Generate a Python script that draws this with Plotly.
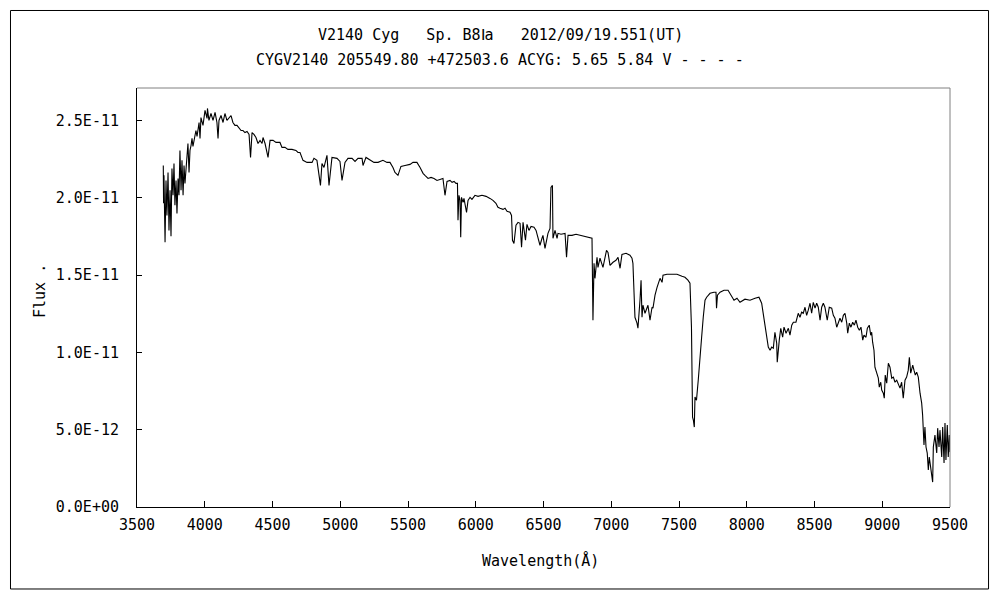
import numpy as np
import plotly.graph_objects as go

# ---------------------------------------------------------------
# Spectrum of V2140 Cyg.
# Flux values are in units of 1e-11 (erg/s/cm2/A), split by region.
# ---------------------------------------------------------------
wl_3700 = [3694, 3696, 3699, 3707, 3714, 3721, 3729, 3736, 3744, 3751,
           3758, 3766, 3773, 3780, 3788, 3795, 3803, 3810, 3817, 3825,
           3832, 3840, 3847, 3854, 3862, 3869, 3876, 3884, 3891, 3899,
           3906, 3913, 3921, 3928, 3935, 3943, 3958, 3965, 3972, 3987]
fx_3700 = [2.209, 1.964, 2.145, 1.712, 2.112, 1.886, 2.164, 1.789, 2.048, 1.751,
           2.190, 2.016, 2.222, 1.951, 2.112, 1.899, 2.125, 2.016, 2.306, 2.048,
           2.242, 2.016, 2.209, 2.093, 2.177, 2.242, 2.351, 2.164, 2.306, 2.339,
           2.384, 2.332, 2.371, 2.390, 2.435, 2.397, 2.487, 2.384, 2.519, 2.468]

wl_4000 = [4002, 4017, 4020, 4031, 4046, 4061, 4076, 4090, 4098, 4105,
           4120, 4135, 4149, 4164, 4179, 4194, 4208, 4223, 4238, 4253,
           4268, 4282, 4297, 4312, 4327, 4338, 4349, 4363, 4378, 4393,
           4408, 4423, 4430, 4445, 4467, 4482, 4504, 4526, 4555, 4570,
           4592, 4614, 4644, 4673, 4688, 4703, 4714, 4725, 4755, 4792,
           4806, 4828, 4854, 4865, 4880, 4902, 4917, 4939, 4976, 4998]
fx_4000 = [2.565, 2.513, 2.578, 2.500, 2.545, 2.500, 2.552, 2.487, 2.384, 2.500,
           2.532, 2.487, 2.545, 2.500, 2.519, 2.532, 2.487, 2.468, 2.468, 2.448,
           2.435, 2.435, 2.422, 2.429, 2.410, 2.261, 2.422, 2.410, 2.390, 2.351,
           2.371, 2.351, 2.390, 2.351, 2.261, 2.371, 2.371, 2.358, 2.358, 2.326,
           2.326, 2.313, 2.313, 2.306, 2.293, 2.293, 2.261, 2.242, 2.229, 2.229,
           2.255, 2.242, 2.080, 2.222, 2.196, 2.274, 2.080, 2.261, 2.255, 2.235]

wl_5000 = [5013, 5028, 5035, 5057, 5087, 5109, 5131, 5161, 5168, 5190,
           5220, 5249, 5279, 5315, 5345, 5367, 5389, 5404, 5426, 5448,
           5478, 5515, 5537, 5566, 5589, 5611, 5625, 5648, 5670, 5692,
           5714, 5736, 5758, 5773, 5788, 5810, 5825, 5840, 5854, 5865,
           5869, 5876, 5884, 5889, 5895, 5906, 5913, 5932, 5943, 5958,
           5972, 5994]
fx_5000 = [2.112, 2.196, 2.229, 2.255, 2.255, 2.235, 2.255, 2.255, 2.209, 2.261,
           2.242, 2.229, 2.229, 2.242, 2.229, 2.229, 2.196, 2.164, 2.145, 2.203,
           2.209, 2.216, 2.229, 2.229, 2.196, 2.158, 2.145, 2.125, 2.132, 2.125,
           2.112, 2.119, 2.125, 2.016, 2.106, 2.112, 2.100, 2.106, 2.093, 2.093,
           1.854, 2.016, 1.983, 1.744, 2.003, 1.970, 1.996, 1.906, 1.983, 2.003,
           1.990, 2.016]

wl_6000 = [6017, 6046, 6076, 6105, 6127, 6149, 6164, 6179, 6201, 6216,
           6231, 6253, 6264, 6271, 6282, 6297, 6312, 6327, 6338, 6349,
           6367, 6378, 6393, 6408, 6430, 6445, 6459, 6474, 6489, 6496,
           6511, 6526, 6533, 6548, 6555, 6566, 6570, 6585, 6600, 6607,
           6629, 6659, 6670, 6681, 6710, 6740, 6769, 6806, 6843, 6858,
           6865, 6873, 6880, 6895, 6902, 6917, 6939, 6965, 6976, 6991]
fx_6000 = [2.009, 2.016, 2.009, 1.996, 1.983, 1.964, 1.938, 1.932, 1.925, 1.932,
           1.912, 1.906, 1.886, 1.725, 1.705, 1.822, 1.841, 1.835, 1.680, 1.841,
           1.725, 1.828, 1.789, 1.815, 1.809, 1.789, 1.744, 1.693, 1.738, 1.757,
           1.673, 1.757, 1.770, 1.802, 2.067, 2.080, 1.738, 1.789, 1.738, 1.770,
           1.764, 1.770, 1.615, 1.757, 1.757, 1.764, 1.757, 1.751, 1.744, 1.738,
           1.208, 1.576, 1.479, 1.615, 1.550, 1.609, 1.550, 1.660, 1.647, 1.563]

wl_7000 = [7013, 7035, 7050, 7065, 7079, 7109, 7138, 7153, 7160, 7168,
           7175, 7190, 7197, 7212, 7220, 7227, 7234, 7249, 7264, 7271,
           7286, 7301, 7308, 7323, 7338, 7360, 7375, 7382, 7411, 7448,
           7485, 7522, 7544, 7566, 7581, 7592, 7600, 7606, 7613, 7618,
           7629, 7642, 7655, 7667, 7679, 7692, 7704, 7729, 7758, 7773,
           7777, 7784, 7803, 7832, 7862, 7876, 7891, 7906, 7928, 7950,
           7987]
fx_7000 = [1.583, 1.596, 1.615, 1.544, 1.634, 1.641, 1.628, 1.609, 1.576, 1.421,
           1.227, 1.189, 1.156, 1.337, 1.467, 1.227, 1.305, 1.253, 1.292, 1.305,
           1.208, 1.292, 1.286, 1.370, 1.421, 1.479, 1.453, 1.499, 1.505, 1.505,
           1.505, 1.492, 1.486, 1.467, 1.447, 1.163, 0.581, 0.562, 0.517, 0.711,
           0.691, 0.820, 0.995, 1.098, 1.227, 1.337, 1.357, 1.382, 1.389, 1.389,
           1.286, 1.370, 1.389, 1.402, 1.402, 1.382, 1.357, 1.337, 1.350, 1.324,
           1.344]

wl_8000 = [8024, 8061, 8090, 8110, 8122, 8135, 8147, 8159, 8172, 8184,
           8196, 8208, 8221, 8225, 8240, 8251, 8265, 8275, 8290, 8307,
           8319, 8332, 8344, 8363, 8380, 8393, 8405, 8417, 8430, 8442,
           8454, 8467, 8479, 8491, 8504, 8516, 8528, 8541, 8553, 8565,
           8577, 8594, 8609, 8627, 8639, 8651, 8664, 8676, 8688, 8701,
           8713, 8725, 8738, 8745, 8757, 8769, 8782, 8794, 8806, 8819,
           8831, 8843, 8856, 8865, 8880, 8890, 8904, 8915, 8922, 8929,
           8939, 8946, 8959, 8971, 8978, 8989, 8996]
fx_8000 = [1.337, 1.350, 1.357, 1.318, 1.253, 1.189, 1.098, 1.034, 1.014, 1.034,
           1.027, 1.130, 1.059, 0.937, 1.079, 1.156, 1.098, 1.163, 1.124, 1.156,
           1.111, 1.176, 1.195, 1.195, 1.253, 1.227, 1.260, 1.253, 1.292, 1.240,
           1.273, 1.318, 1.253, 1.324, 1.286, 1.318, 1.292, 1.208, 1.292, 1.318,
           1.292, 1.208, 1.292, 1.286, 1.240, 1.221, 1.163, 1.189, 1.221, 1.195,
           1.240, 1.253, 1.189, 1.124, 1.189, 1.163, 1.195, 1.176, 1.208, 1.163,
           1.143, 1.163, 1.079, 1.111, 1.098, 1.156, 1.176, 1.111, 1.130, 1.066,
           1.014, 0.904, 0.866, 0.833, 0.775, 0.807, 0.756]

wl_9000 = [9008, 9015, 9022, 9033, 9045, 9057, 9070, 9082, 9094, 9107,
           9118, 9131, 9143, 9155, 9168, 9180, 9192, 9200, 9210, 9225,
           9234, 9244, 9254, 9266, 9279, 9291, 9298, 9303, 9308, 9315,
           9323, 9332, 9340, 9347, 9358, 9365, 9372, 9377, 9389, 9402,
           9409, 9419, 9426, 9439, 9446, 9456, 9463, 9470, 9480, 9487,
           9495, 9499]
fx_9000 = [0.736, 0.704, 0.853, 0.801, 0.930, 0.904, 0.833, 0.840, 0.807, 0.820,
           0.801, 0.769, 0.807, 0.704, 0.820, 0.840, 0.885, 0.969, 0.866, 0.917,
           0.885, 0.853, 0.872, 0.840, 0.736, 0.672, 0.594, 0.517, 0.401, 0.517,
           0.388, 0.349, 0.239, 0.323, 0.252, 0.220, 0.161, 0.388, 0.465, 0.349,
           0.510, 0.388, 0.497, 0.323, 0.517, 0.284, 0.543, 0.304, 0.530, 0.323,
           0.465, 0.355]

y_tickvals = [0.0, 5.0e-12, 1.0e-11, 1.5e-11, 2.0e-11, 2.5e-11]
y_ticktext = ["0.0E+00", "5.0E-12", "1.0E-11", "1.5E-11", "2.0E-11", "2.5E-11"]
x_tickvals = [3500, 4000, 4500, 5000, 5500, 6000, 6500, 7000, 7500, 8000, 8500, 9000, 9500]

NB = "\u00a0"
title_1 = "V2140 Cyg" + NB * 3 + "Sp." + NB + "B8Ⅰa" + NB * 3 + "2012/09/19.551(UT)"
title_2 = "CYGV2140 205549.80 +472503.6 ACYG: 5.65 5.84 V - - - -"

wl = wl_3700 + wl_4000 + wl_5000 + wl_6000 + wl_7000 + wl_8000 + wl_9000
fx = fx_3700 + fx_4000 + fx_5000 + fx_6000 + fx_7000 + fx_8000 + fx_9000
assert len(wl) == len(fx)
flux = np.array(fx) * 1e-11

FONT = "DejaVu Sans Mono"
TXT = dict(family=FONT, size=15, color="black")

fig = go.Figure()
fig.add_trace(go.Scatter(
    x=wl, y=flux,
    mode="lines",
    line=dict(color="black", width=1.1),
    showlegend=False,
    hoverinfo="x+y",
))

# plot-area frame: black left/bottom (axis lines), grey top/right
fig.add_shape(type="line", xref="paper", yref="paper", x0=0, x1=1, y0=1, y1=1,
              line=dict(color="#808080", width=1))
fig.add_shape(type="line", xref="paper", yref="paper", x0=1, x1=1, y0=0, y1=1,
              line=dict(color="#808080", width=1))
# outer picture border
fig.add_shape(type="rect", xref="paper", yref="paper",
              x0=-0.1556, x1=1.0474, y0=-0.1957, y1=1.1850,
              line=dict(color="black", width=1))

fig.add_annotation(text=title_1, xref="paper", yref="paper", x=0.4465, y=1.1265,
                   xanchor="center", yanchor="middle", showarrow=False, font=TXT)
fig.add_annotation(text=title_2, xref="paper", yref="paper", x=0.4465, y=1.0668,
                   xanchor="center", yanchor="middle", showarrow=False, font=TXT)
fig.add_annotation(text="Wavelength(Å)", xref="paper", yref="paper", x=0.4957, y=-0.1265,
                   xanchor="center", yanchor="middle", showarrow=False, font=TXT)
fig.add_annotation(text="Flux" + NB + ".", xref="paper", yref="paper", x=-0.1193, y=0.5155,
                   xanchor="center", yanchor="middle", textangle=-90,
                   showarrow=False, font=TXT)

fig.update_xaxes(
    range=[3500, 9500],
    tickvals=x_tickvals,
    ticks="inside", ticklen=6, tickcolor="black", tickwidth=1,
    showline=True, linecolor="black", linewidth=1,
    showgrid=False, zeroline=False,
    tickfont=TXT,
    ticklabelstandoff=4,
)
fig.update_yaxes(
    range=[0, 2.71e-11],
    tickvals=y_tickvals, ticktext=y_ticktext,
    ticks="inside", ticklen=5, tickcolor="black", tickwidth=1,
    showline=True, linecolor="black", linewidth=1,
    showgrid=False, zeroline=False,
    tickfont=TXT,
    ticklabelstandoff=14,
)

# the page body adds an 8px margin, so the figure is drawn 8px smaller
fig.update_layout(
    width=992, height=592,
    margin=dict(l=129, r=50, t=80, b=93),
    paper_bgcolor="white",
    plot_bgcolor="white",
    font=dict(family=FONT, color="black"),
)

fig.write_html("out.html")
